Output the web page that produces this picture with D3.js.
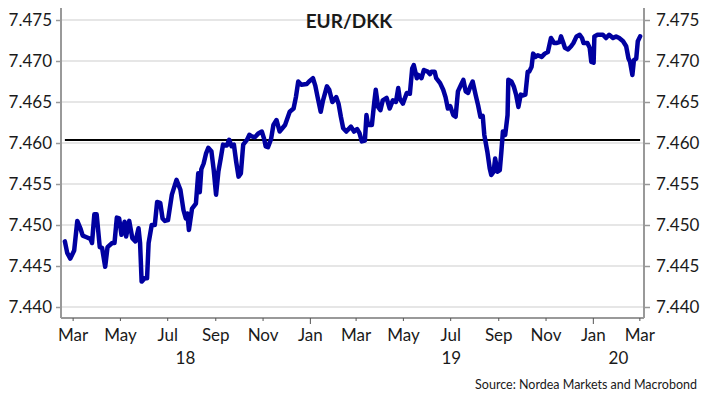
<!DOCTYPE html>
<html><head><meta charset="utf-8">
<script src="https://cdn.jsdelivr.net/npm/d3@7"></script>
<style>
html,body{margin:0;padding:0;background:#fff;}
svg{display:block;font-family:Lato,"Open Sans",sans-serif;}
</style></head>
<body>
<svg id="chart" width="705" height="404"></svg>
<script>
const title = "EUR/DKK";
const source = "Source: Nordea Markets and Macrobond";
const yTicks = [7.440, 7.445, 7.450, 7.455, 7.460, 7.465, 7.470, 7.475];
const centralRate = 7.46038;
const dates = [
"2018-02-19","2018-02-22","2018-02-26","2018-03-03","2018-03-07","2018-03-11","2018-03-14","2018-03-19","2018-03-24","2018-03-26",
"2018-03-29","2018-04-01","2018-04-05","2018-04-08","2018-04-12","2018-04-15","2018-04-21","2018-04-24","2018-04-27","2018-04-30",
"2018-05-03","2018-05-07","2018-05-09","2018-05-13","2018-05-17","2018-05-21","2018-05-25","2018-05-27","2018-05-29","2018-06-02",
"2018-06-05","2018-06-07","2018-06-11","2018-06-15","2018-06-18","2018-06-22","2018-06-25","2018-06-28","2018-07-02","2018-07-07",
"2018-07-13","2018-07-18","2018-07-22","2018-07-25","2018-07-27","2018-07-29","2018-08-02","2018-08-07","2018-08-10","2018-08-12",
"2018-08-14","2018-08-17","2018-08-20","2018-08-23","2018-08-27","2018-08-30","2018-09-02","2018-09-05","2018-09-08","2018-09-11",
"2018-09-16","2018-09-19","2018-09-22","2018-09-25","2018-09-28","2018-10-01","2018-10-04","2018-10-07","2018-10-12","2018-10-15",
"2018-10-18","2018-10-22","2018-10-27","2018-10-31","2018-11-03","2018-11-05","2018-11-08","2018-11-12","2018-11-15","2018-11-19",
"2018-11-23","2018-11-30","2018-12-06","2018-12-11","2018-12-14","2018-12-17","2018-12-21","2018-12-28","2018-12-31","2019-01-05",
"2019-01-08","2019-01-11","2019-01-15","2019-01-18","2019-01-23","2019-01-26","2019-01-30","2019-02-04","2019-02-07","2019-02-10",
"2019-02-13","2019-02-17","2019-02-23","2019-02-27","2019-03-03","2019-03-06","2019-03-09","2019-03-13","2019-03-15","2019-03-17",
"2019-03-22","2019-03-25","2019-03-27","2019-03-30","2019-04-02","2019-04-05","2019-04-10","2019-04-14","2019-04-18","2019-04-22",
"2019-04-25","2019-04-27","2019-05-01","2019-05-06","2019-05-10","2019-05-13","2019-05-15","2019-05-19","2019-05-21","2019-05-25",
"2019-05-28","2019-06-02","2019-06-05","2019-06-07","2019-06-11","2019-06-13","2019-06-18","2019-06-22","2019-06-25","2019-06-28",
"2019-07-01","2019-07-05","2019-07-08","2019-07-11","2019-07-15","2019-07-18","2019-07-21","2019-07-24","2019-07-27","2019-07-30",
"2019-08-03","2019-08-06","2019-08-09","2019-08-12","2019-08-14","2019-08-18","2019-08-21","2019-08-23","2019-08-26","2019-08-28",
"2019-08-31","2019-09-03","2019-09-05","2019-09-07","2019-09-10","2019-09-13","2019-09-14","2019-09-18","2019-09-21","2019-09-24",
"2019-09-27","2019-09-30","2019-10-03","2019-10-06","2019-10-09","2019-10-11","2019-10-14","2019-10-16","2019-10-19","2019-10-22",
"2019-10-27","2019-10-31","2019-11-04","2019-11-08","2019-11-12","2019-11-15","2019-11-19","2019-11-21","2019-11-24","2019-11-26",
"2019-11-30","2019-12-04","2019-12-07","2019-12-11","2019-12-15","2019-12-18","2019-12-20","2019-12-25","2019-12-28","2019-12-30",
"2020-01-02","2020-01-03","2020-01-07","2020-01-14","2020-01-18","2020-01-22","2020-01-27","2020-01-31","2020-02-04","2020-02-09",
"2020-02-13","2020-02-16","2020-02-18","2020-02-21","2020-02-23","2020-02-26","2020-02-28","2020-03-02"
];
const values = [
7.4480,7.4466,7.4459,7.4469,7.4505,7.4496,7.4487,7.4485,7.4483,7.4478,
7.4513,7.4513,7.4473,7.4472,7.4449,7.4473,7.4478,7.4478,7.4509,7.4508,
7.4488,7.4504,7.4486,7.4505,7.4484,7.4480,7.4496,7.4478,7.4431,7.4435,
7.4435,7.4478,7.4500,7.4500,7.4528,7.4527,7.4508,7.4505,7.4506,7.4537,
7.4555,7.4543,7.4518,7.4508,7.4514,7.4494,7.4520,7.4526,7.4563,7.4540,
7.4568,7.4575,7.4587,7.4594,7.4590,7.4567,7.4537,7.4565,7.4581,7.4598,
7.4597,7.4604,7.4596,7.4598,7.4577,7.4559,7.4563,7.4598,7.4604,7.4610,
7.4608,7.4607,7.4612,7.4614,7.4605,7.4596,7.4595,7.4605,7.4622,7.4628,
7.4614,7.4622,7.4638,7.4642,7.4656,7.4675,7.4671,7.4672,7.4675,7.4679,
7.4670,7.4656,7.4638,7.4652,7.4669,7.4665,7.4650,7.4656,7.4648,7.4632,
7.4618,7.4614,7.4620,7.4614,7.4617,7.4612,7.4602,7.4603,7.4634,7.4622,
7.4622,7.4649,7.4665,7.4644,7.4640,7.4652,7.4655,7.4642,7.4652,7.4650,
7.4667,7.4654,7.4648,7.4661,7.4660,7.4691,7.4695,7.4679,7.4683,7.4679,
7.4689,7.4687,7.4684,7.4687,7.4687,7.4679,7.4673,7.4665,7.4656,7.4642,
7.4645,7.4634,7.4632,7.4663,7.4671,7.4677,7.4663,7.4661,7.4669,7.4675,
7.4658,7.4646,7.4632,7.4633,7.4610,7.4589,7.4569,7.4561,7.4565,7.4581,
7.4565,7.4567,7.4589,7.4614,7.4610,7.4634,7.4677,7.4675,7.4669,7.4659,
7.4644,7.4659,7.4658,7.4659,7.4687,7.4687,7.4693,7.4709,7.4705,7.4707,
7.4705,7.4709,7.4711,7.4728,7.4722,7.4722,7.4723,7.4730,7.4722,7.4716,
7.4714,7.4718,7.4722,7.4730,7.4732,7.4728,7.4722,7.4722,7.4716,7.4699,
7.4698,7.4730,7.4732,7.4732,7.4728,7.4732,7.4728,7.4730,7.4728,7.4724,
7.4718,7.4703,7.4699,7.4683,7.4701,7.4703,7.4724,7.4730
];
const xTickDates = ["2018-03-01","2018-05-01","2018-07-01","2018-09-01","2018-11-01","2019-01-01","2019-03-01","2019-05-01","2019-07-01","2019-09-01","2019-11-01","2020-01-01","2020-03-01"];
const monthLabels = ["Mar","May","Jul","Sep","Nov","Jan","Mar","May","Jul","Sep","Nov","Jan","Mar"];
const yearLabels = ["18","19","20"];

const parse = d3.timeParse("%Y-%m-%d");
const data = dates.map((d,i)=>({date:parse(d), value:values[i]}));

const L=61, R=644, T=8, B=318;
const svg = d3.select("#chart");
const x = d3.scaleTime().domain([parse("2018-02-14"), parse("2020-03-07")]).range([L,R]);
const y = d3.scaleLinear().domain([7.440 - 11/8200, 7.475 + 12/8200]).range([B,T]);

// gridlines
svg.append("g").selectAll("line").data(yTicks).join("line")
  .attr("x1",L).attr("x2",R).attr("y1",d=>y(d)).attr("y2",d=>y(d))
  .attr("stroke","#e6e6e6").attr("stroke-width",2);

// axes
const fmt = d3.format(".3f");
const yl = svg.append("g").attr("transform",`translate(${L},0)`)
  .call(d3.axisLeft(y).tickValues(yTicks).tickFormat(fmt).tickSize(5).tickPadding(4).tickSizeOuter(0));
const yr = svg.append("g").attr("transform",`translate(${R},0)`)
  .call(d3.axisRight(y).tickValues(yTicks).tickFormat(fmt).tickSize(6).tickPadding(6).tickSizeOuter(0));
[yl,yr].forEach(g=>{
  g.select(".domain").attr("stroke","#999").attr("stroke-width",2).attr("d", g===yl ? `M0,${T}V${B}` : `M0,${T}V${B}`);
  g.selectAll(".tick line").attr("stroke","#999").attr("stroke-width",1.5);
  g.selectAll(".tick text").attr("font-size",17).attr("fill","#1a1a1a").attr("font-family","Lato, sans-serif");
});

const xa = svg.append("g").attr("transform",`translate(0,${B})`)
  .call(d3.axisBottom(x).tickValues(xTickDates.map(parse)).tickFormat((d,i)=>monthLabels[i]).tickSize(3).tickPadding(8).tickSizeOuter(0));
xa.select(".domain").attr("stroke","#999").attr("stroke-width",2).attr("d",`M${L},0H${R}`);
xa.selectAll(".tick line").attr("stroke","#555").attr("stroke-width",1)
  .attr("y2",(d)=> d.getMonth()===0 ? 6 : 3);
xa.selectAll(".tick text").attr("font-size",17).attr("fill","#1a1a1a").attr("font-family","Lato, sans-serif");

// year labels centered on visible part of each year
const [d0,d1] = x.domain();
const years = [2018,2019,2020];
svg.append("g").selectAll("text").data(yearLabels).join("text")
  .attr("x",(t,i)=>{
    const a = new Date(Math.max(+d0, +new Date(years[i],0,1)));
    const b = new Date(Math.min(+d1, +new Date(years[i]+1,0,1)));
    return (x(a)+x(b))/2;
  })
  .attr("y",364).attr("text-anchor","middle").attr("font-size",17).attr("fill","#1a1a1a").text(t=>t);

// central rate line
svg.append("line")
  .attr("x1",x(data[0].date)).attr("x2",x(data[data.length-1].date))
  .attr("y1",y(centralRate)).attr("y2",y(centralRate))
  .attr("stroke","#000").attr("stroke-width",2);

// series
svg.append("path").datum(data)
  .attr("fill","none").attr("stroke","#0000a0").attr("stroke-width",4.5)
  .attr("stroke-linejoin","round").attr("stroke-linecap","round")
  .attr("d", d3.line().x(d=>x(d.date)).y(d=>y(d.value)));

// title
svg.append("text").attr("x",349).attr("y",28).attr("text-anchor","middle")
  .attr("font-size",19).attr("font-weight","bold").attr("fill","#1a1a1a").text(title);

// source
svg.append("text").attr("x",697).attr("y",389).attr("text-anchor","end")
  .attr("font-size",12.5).attr("fill","#1a1a1a").text(source);
</script>
</body></html>
